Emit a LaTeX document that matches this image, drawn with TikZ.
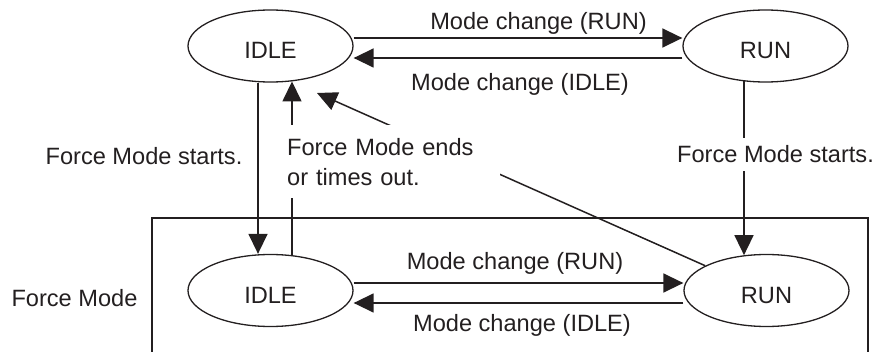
\documentclass[tikz,border=0pt]{standalone}
\usepackage{fontspec}
\setmainfont{Liberation Sans}
\usetikzlibrary{shapes.geometric,arrows.meta}
\definecolor{ink}{HTML}{231F20}
\begin{document}
\begin{tikzpicture}[x=1pt,y=1pt,
 lbl/.style={font=\fontsize{23.6}{30}\selectfont, inner sep=0pt, anchor=base, text=ink},
 st/.style={ellipse, draw=ink, line width=1.3pt, minimum width=165pt, minimum height=72pt, inner sep=0pt,
   font=\fontsize{23.6}{30}\selectfont, text height=26pt, text depth=0pt, text=ink},
 arr/.style={draw=ink, line width=1.5pt, -{Triangle[length=20pt,width=19pt]}},
 frame/.style={draw=ink, line width=1.3pt}]
\useasboundingbox (0,0) rectangle (876,351);
\node[st] (I1) at (270.5,305) {IDLE};
\node[st] (R1) at (765.5,305) {RUN};
\node[st] (I2) at (270.5,60.5) {IDLE};
\node[st] (R2) at (766.5,60.5) {RUN};
% frame
\draw[frame] (152,-5) -- (152,133) -- (868,133) -- (868,-5);
% top transitions
\draw[arr] ([yshift=8pt]I1.east) -- ([yshift=8pt]R1.west);
\draw[arr] ([yshift=-12pt]R1.west) -- ([yshift=-12pt]I1.east);
% bottom transitions
\draw[arr] ([yshift=7.5pt]I2.east) -- ([yshift=7.5pt]R2.west);
\draw[arr] ([yshift=-12.5pt]R2.west) -- ([yshift=-12.5pt]I2.east);
% force mode starts
\draw[arr] ([xshift=-12.5pt]I1.south) -- ([xshift=-12.5pt]I2.north);
\draw[arr] ([xshift=-21.5pt,yshift=1.2pt]R1.south) -- ([xshift=-22.5pt,yshift=-1.3pt]R2.north);
% force mode ends
\draw[arr] ([xshift=21.5pt,yshift=-1.2pt]I2.north) -- ([xshift=21.5pt,yshift=1.2pt]I1.south);
\coordinate (dtip) at (317,258);
\draw[arr] (R2.158) -- (dtip);
% labels
\node[lbl] (t1) at (538.5,321.5) {Mode change (RUN)};
\node[lbl] (t2) at (520,260.5) {Mode change (IDLE)};
\node[lbl] (t3) at (515,81.3) {Mode change (RUN)};
\node[lbl] (t4) at (522,19.4) {Mode change (IDLE)};
\node[lbl] (fm) at (74.5,44) {Force Mode};
\node[lbl] (fs1) at (144,186) {Force Mode starts.};
\node[lbl, fill=white, inner xsep=2pt, inner ysep=8pt] (fs2) at (775.5,188) {Force Mode starts.};
\node[lbl, anchor=north west, fill=white, inner xsep=4pt, inner ysep=12.8pt, text width=209pt, align=left] (fe) at (283,226) {Force Mode ends\\or times out.};
\end{tikzpicture}
\end{document}
